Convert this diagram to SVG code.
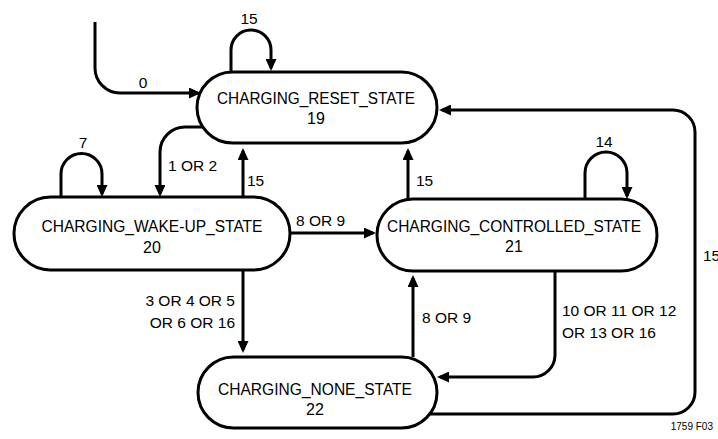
<svg xmlns="http://www.w3.org/2000/svg" width="718" height="439" viewBox="0 0 718 439">
<style>
.node{fill:#fff;stroke:#000;stroke-width:3}
.c{fill:none;stroke:#000;stroke-width:3;marker-end:url(#ah)}
.cn{fill:none;stroke:#000;stroke-width:3}
text{font-family:"Liberation Sans",Arial,sans-serif;fill:#000}
.nt{font-size:16px;text-anchor:middle}
.lb{font-size:15.5px}
.m{text-anchor:middle}
.e{text-anchor:end}
</style>
<defs>
<marker id="ah" markerUnits="userSpaceOnUse" markerWidth="12" markerHeight="11" refX="9" refY="5.5" orient="auto">
<path d="M0,0 L12,5.5 L0,11 z" fill="#000"/>
</marker>
</defs>
<rect width="718" height="439" fill="#fff"/>
<g id="connectors">
<path class="c" d="M95,22 V68 A25,25 0 0 0 120,93 H198"/>
<path class="c" d="M231,72 V50 A20,20 0 0 1 271,50 V68"/>
<path class="c" d="M203,127 H185 A25,25 0 0 0 160,152 V194"/>
<path class="c" d="M243,197 V151"/>
<path class="c" d="M61,197 V174 A20.5,20.5 0 0 1 102,174 V194"/>
<path class="c" d="M290,233 H373"/>
<path class="c" d="M408,199 V151"/>
<path class="c" d="M585,199 V173 A21,21 0 0 1 627,173 V196"/>
<path class="c" d="M430,414 H673 A22,22 0 0 0 695,392 V132 A22,22 0 0 0 673,110 H442"/>
<path class="c" d="M243,270 V350"/>
<path class="c" d="M413,357 V278"/>
<path class="c" d="M555,271 V355 A22,22 0 0 1 533,377 H440"/>
</g>
<g id="labels">
<text class="lb m" x="143" y="88">0</text>
<text class="lb m" x="249" y="24">15</text>
<text class="lb m" x="83" y="148">7</text>
<text class="lb" x="168" y="171">1 OR 2</text>
<text class="lb" x="247" y="186">15</text>
<text class="lb" x="296" y="226">8 OR 9</text>
<text class="lb" x="416" y="186">15</text>
<text class="lb m" x="604" y="147">14</text>
<text class="lb" x="703" y="261">15</text>
<text class="lb e" x="235" y="306">3 OR 4 OR 5</text>
<text class="lb e" x="235" y="328">OR 6 OR 16</text>
<text class="lb" x="422" y="323">8 OR 9</text>
<text class="lb" x="562" y="316">10 OR 11 OR 12</text>
<text class="lb" x="562" y="338">OR 13 OR 16</text>
<text x="713" y="430" font-size="10" text-anchor="end">1759 F03</text>
</g>
<g id="reset">
<rect class="node" x="197" y="72" width="240" height="71" rx="35.5"/>
<text class="nt" x="316" y="104" textLength="198" lengthAdjust="spacingAndGlyphs">CHARGING_RESET_STATE</text>
<text class="nt" x="316" y="124">19</text>
</g>
<g id="wakeup">
<rect class="node" x="14" y="197" width="276" height="73" rx="36.5"/>
<text class="nt" x="152" y="232" textLength="221" lengthAdjust="spacingAndGlyphs">CHARGING_WAKE-UP_STATE</text>
<text class="nt" x="152" y="253">20</text>
</g>
<g id="controlled">
<rect class="node" x="377" y="199" width="280" height="72" rx="36"/>
<text class="nt" x="514" y="232" textLength="254" lengthAdjust="spacingAndGlyphs">CHARGING_CONTROLLED_STATE</text>
<text class="nt" x="514" y="252">21</text>
</g>
<g id="none">
<rect class="node" x="198" y="357" width="239" height="71" rx="35.5"/>
<text class="nt" x="315" y="395" textLength="194" lengthAdjust="spacingAndGlyphs">CHARGING_NONE_STATE</text>
<text class="nt" x="315" y="415">22</text>
</g>
</svg>
